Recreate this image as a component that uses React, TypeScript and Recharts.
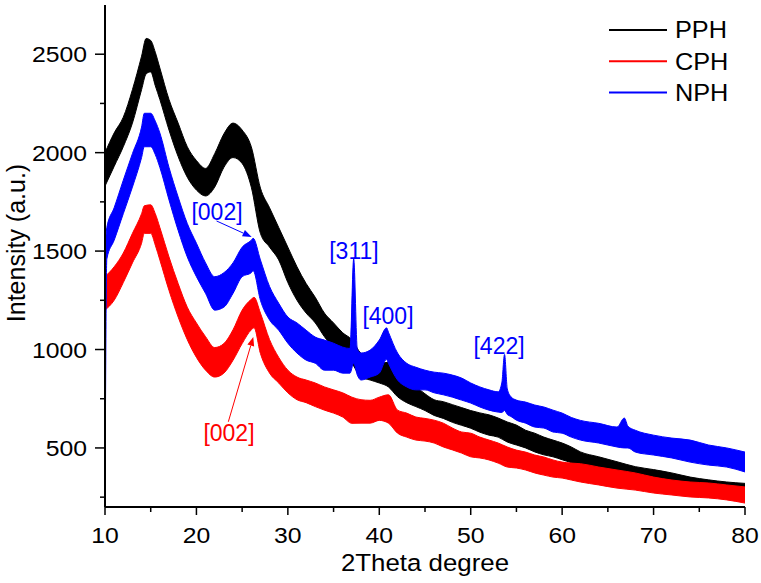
import React from 'react';
import {
  ComposedChart,
  Area,
  XAxis,
  YAxis,
  Legend,
  ReferenceDot,
  ReferenceLine,
} from 'recharts';

// ---------- data (lower / upper edge of each noisy trace) ----------
const pphTheta = [10, 11, 12, 13, 14, 14.5, 15, 15.5, 16, 17, 18, 19, 20, 21, 22, 23, 24, 25, 26, 27, 28, 29, 30, 31, 32, 33, 34, 35, 36, 37, 38, 39, 40, 41, 42, 43, 44, 45, 46, 47, 48, 49, 50, 51, 52, 53, 54, 55, 56, 57, 58, 59, 60, 61, 62, 64, 66, 68, 70, 72, 74, 76, 78, 80];
const pphLow = [1830, 1930, 2030, 2150, 2320, 2400, 2410, 2340, 2270, 2115, 1980, 1875, 1810, 1780, 1825, 1925, 1975, 1945, 1825, 1590, 1520, 1455, 1340, 1250, 1185, 1135, 1065, 1010, 980, 930, 860, 845, 830, 810, 760, 730, 710, 690, 665, 650, 630, 615, 600, 580, 565, 555, 530, 515, 500, 480, 465, 455, 440, 425, 405, 380, 355, 338, 322, 302, 288, 262, 246, 228];
const pphHigh = [2000, 2100, 2180, 2320, 2490, 2580, 2570, 2510, 2430, 2270, 2150, 2030, 1960, 1920, 1995, 2095, 2150, 2115, 2030, 1820, 1720, 1620, 1520, 1420, 1335, 1265, 1185, 1135, 1085, 1050, 980, 960, 930, 935, 860, 830, 810, 775, 745, 735, 720, 705, 690, 678, 668, 652, 632, 616, 590, 575, 555, 540, 525, 505, 480, 455, 430, 405, 390, 373, 352, 338, 327, 320];

const cphTheta = [10, 11, 12, 13, 14, 14.3, 15, 15.5, 16, 17, 18, 19, 20, 21, 22, 23, 24, 25, 26, 26.3, 27, 28, 29, 30, 31, 32, 33, 34, 35, 36, 37, 38, 39, 40, 41, 42, 43, 44, 45, 46, 47, 48, 49, 50, 51, 52, 53, 54, 55, 56, 57, 58, 59, 60, 61, 62, 64, 66, 68, 70, 72, 74, 76, 78, 80];
const cphLow = [1200, 1250, 1340, 1440, 1540, 1590, 1590, 1530, 1455, 1300, 1165, 1050, 960, 895, 860, 880, 945, 1030, 1100, 1110, 980, 880, 830, 780, 745, 730, 710, 692, 677, 657, 625, 626, 626, 640, 626, 575, 555, 540, 535, 525, 505, 490, 474, 455, 449, 439, 423, 403, 398, 388, 373, 362, 352, 347, 337, 327, 312, 296, 286, 271, 261, 251, 246, 236, 220];
const cphHigh = [1370, 1420, 1490, 1590, 1690, 1730, 1735, 1690, 1620, 1470, 1335, 1215, 1135, 1065, 1010, 1030, 1100, 1200, 1255, 1265, 1185, 1050, 960, 895, 860, 845, 830, 810, 795, 780, 758, 745, 742, 758, 770, 692, 677, 657, 650, 641, 626, 601, 581, 575, 555, 540, 525, 505, 489, 479, 464, 454, 439, 428, 423, 420, 403, 388, 373, 352, 337, 327, 322, 312, 302];

const nphTheta = [10, 10.2, 11, 12, 13, 14, 14.3, 15, 15.5, 16, 17, 18, 19, 20, 21, 22, 23, 24, 25, 26, 26.2, 27, 28, 29, 30, 31, 32, 33, 34, 35, 36, 36.8, 37.2, 37.6, 38, 39, 40, 40.8, 41, 42, 43, 44, 45, 46, 47, 48, 49, 50, 51, 52, 53, 53.4, 53.7, 54, 54.4, 55, 56, 57, 58, 59, 60, 61, 62, 64, 66, 66.8, 67.2, 68, 70, 72, 74, 76, 78, 80];
const nphLow = [200, 1460, 1555, 1690, 1825, 1975, 2030, 2030, 1990, 1925, 1760, 1605, 1470, 1370, 1285, 1200, 1215, 1285, 1370, 1390, 1400, 1250, 1150, 1098, 1032, 982, 946, 930, 895, 895, 880, 880, 930, 870, 845, 860, 880, 950, 930, 845, 810, 795, 795, 780, 770, 758, 743, 728, 708, 692, 682, 680, 690, 670, 660, 641, 626, 606, 601, 581, 575, 555, 540, 525, 505, 500, 500, 479, 464, 449, 428, 413, 403, 378];
const nphHigh = [1500, 1620, 1720, 1860, 1995, 2130, 2200, 2200, 2160, 2100, 1925, 1775, 1640, 1540, 1440, 1370, 1390, 1440, 1520, 1555, 1565, 1455, 1320, 1235, 1165, 1135, 1098, 1063, 1048, 1032, 1012, 1005, 1460, 1000, 982, 997, 1048, 1110, 1088, 982, 930, 910, 895, 885, 880, 870, 855, 830, 810, 795, 785, 830, 975, 800, 760, 743, 733, 718, 708, 692, 677, 655, 640, 625, 606, 652, 610, 590, 565, 550, 540, 515, 500, 479];

const seriesNames = ['PPH', 'CPH', 'NPH'];
const seriesColors = ['#000000', '#ff0000', '#0000ff'];

const xTicks = [10, 15, 20, 25, 30, 35, 40, 45, 50, 55, 60, 65, 70, 75, 80];
const yTicks = [250, 500, 750, 1000, 1250, 1500, 1750, 2000, 2250, 2500];

// annotation labels
const annotTexts = ['[002]', '[002]', '[311]', '[400]', '[422]'];
const annotTheta = [22.25, 23.56, 37.23, 40.95, 53.1];
const annotValue = [1697, 578, 1500, 1170, 1017];
const annotColor = [2, 1, 2, 2, 2];

// arrows: start (theta, value) -> tip (theta, value)
const arrowFromTheta = [22.2, 23.49];
const arrowFromValue = [1653, 633];
const arrowToTheta = [26.04, 26.22];
const arrowToValue = [1572, 1064];
const arrowColor = [2, 1];

// ---------- helpers ----------
const build = (t: number[], lo: number[], hi: number[]) =>
  t.map((x, i) => ({ t: x, r: [lo[i], hi[i]] }));

const pphData = build(pphTheta, pphLow, pphHigh);
const cphData = build(cphTheta, cphLow, cphHigh);
const nphData = build(nphTheta, nphLow, nphHigh);
const allData = [pphData, cphData, nphData];

const FONT = '"Liberation Sans", Arial, sans-serif';
const SX = 1.1; // reference lettering is slightly wide

const WideText = ({ x, y, size, anchor, fill = '#000', children }: any) => (
  <text
    transform={`translate(${x} ${y}) scale(${SX} 1)`}
    x={0}
    y={0}
    textAnchor={anchor}
    fontSize={size}
    fontFamily={FONT}
    fill={fill}
  >
    {children}
  </text>
);

const XTick = (props: any) => {
  const { x, y, payload } = props;
  const major = payload.value % 10 === 0;
  return (
    <g>
      <line x1={x} x2={x} y1={y} y2={y + (major ? 8 : 5)} stroke="#000" strokeWidth={1.5} />
      {major && (
        <WideText x={x} y={y + 35.5} size={22.5} anchor="middle">
          {payload.value}
        </WideText>
      )}
    </g>
  );
};

const YTick = (props: any) => {
  const { x, y, payload } = props;
  const major = payload.value % 500 === 0;
  return (
    <g>
      <line x1={x} x2={x - (major ? 10 : 5)} y1={y} y2={y} stroke="#000" strokeWidth={1.5} />
      {major && (
        <WideText x={x - 18} y={y + 8} size={22.5} anchor="end">
          {payload.value}
        </WideText>
      )}
    </g>
  );
};

const YTitle = () => (
  <text
    x={16}
    y={243}
    transform="rotate(-90 16 243)"
    textAnchor="middle"
    dominantBaseline="central"
    fontSize={25}
    fontFamily={FONT}
    fill="#000"
  >
    Intensity (a.u.)
  </text>
);

const XTitle = () => (
  <WideText x={425} y={571} size={23.5} anchor="middle">
    2Theta degree
  </WideText>
);

const LegendBox = () => (
  <svg width={161} height={110} style={{ display: 'block' }}>
    {seriesNames.map((n, i) => {
      const cy = 30 + i * 31.3;
      return (
        <g key={n}>
          <line x1={9} x2={67} y1={cy} y2={cy} stroke={seriesColors[i]} strokeWidth={2} />
          <WideText x={75} y={cy + 8.3} size={23} anchor="start">
            {n}
          </WideText>
        </g>
      );
    })}
  </svg>
);

const makeArrow = (color: string) => (p: any) => {
  const { x1, y1, x2, y2 } = p;
  if ([x1, y1, x2, y2].some((v) => typeof v !== 'number' || isNaN(v))) return <g />;
  const dx = x2 - x1;
  const dy = y2 - y1;
  const len = Math.sqrt(dx * dx + dy * dy) || 1;
  const ux = dx / len;
  const uy = dy / len;
  const bx = x2 - ux * 9;
  const by = y2 - uy * 9;
  const px = -uy * 3.5;
  const py = ux * 3.5;
  return (
    <g>
      <line x1={x1} y1={y1} x2={bx} y2={by} stroke={color} strokeWidth={1} />
      <polygon points={`${x2},${y2} ${bx + px},${by + py} ${bx - px},${by - py}`} fill={color} />
    </g>
  );
};

const makeLabel = (text: string, color: string) => (p: any) => (
  <text
    x={p.cx}
    y={p.cy}
    textAnchor="middle"
    dominantBaseline="central"
    fontSize={23}
    fontFamily={FONT}
    fill={color}
  >
    {text}
  </text>
);

export default function App() {
  return (
    <div style={{ position: 'absolute', left: 0, top: 0, width: 761, height: 583, background: '#fff' }}>
      <ComposedChart width={761} height={583} margin={{ top: 5, right: 16, bottom: 0, left: 0 }}>
        <XAxis
          dataKey="t"
          type="number"
          domain={[10, 80]}
          ticks={xTicks}
          interval={0}
          allowDataOverflow
          height={76}
          tickSize={0}
          tickMargin={0}
          tickLine={false}
          tick={<XTick />}
          axisLine={{ stroke: '#000', strokeWidth: 2 }}
          label={<XTitle />}
        />
        <XAxis
          xAxisId="top"
          orientation="top"
          type="number"
          domain={[10, 80]}
          height={0}
          tick={false}
          tickLine={false}
          axisLine={{ stroke: '#000', strokeWidth: 2 }}
        />
        <YAxis
          type="number"
          domain={[200, 2750]}
          ticks={yTicks}
          interval={0}
          allowDataOverflow
          width={105}
          tickSize={0}
          tickMargin={0}
          tickLine={false}
          tick={<YTick />}
          axisLine={{ stroke: '#000', strokeWidth: 2 }}
          label={<YTitle />}
        />
        <YAxis
          yAxisId="right"
          orientation="right"
          type="number"
          domain={[200, 2750]}
          width={0}
          tick={false}
          tickLine={false}
          axisLine={{ stroke: '#000', strokeWidth: 2 }}
        />
        {allData.map((d, i) => (
          <Area
            key={seriesNames[i]}
            name={seriesNames[i]}
            data={d}
            dataKey="r"
            type="monotone"
            stroke={seriesColors[i]}
            strokeWidth={1}
            fill={seriesColors[i]}
            fillOpacity={1}
            dot={false}
            activeDot={false}
            isAnimationActive={false}
          />
        ))}
        {arrowFromTheta.map((t, i) => (
          <ReferenceLine
            key={'arr' + i}
            segment={[
              { x: t, y: arrowFromValue[i] },
              { x: arrowToTheta[i], y: arrowToValue[i] },
            ]}
            ifOverflow="visible"
            shape={makeArrow(seriesColors[arrowColor[i]])}
          />
        ))}
        {annotTexts.map((txt, i) => (
          <ReferenceDot
            key={'lab' + i}
            x={annotTheta[i]}
            y={annotValue[i]}
            r={0}
            ifOverflow="visible"
            shape={makeLabel(txt, seriesColors[annotColor[i]])}
          />
        ))}
        <Legend
          layout="vertical"
          align="center"
          verticalAlign="middle"
          content={<LegendBox />}
          wrapperStyle={{ position: 'absolute', left: 600, top: 0, width: 161, height: 110 }}
        />
      </ComposedChart>
    </div>
  );
}
